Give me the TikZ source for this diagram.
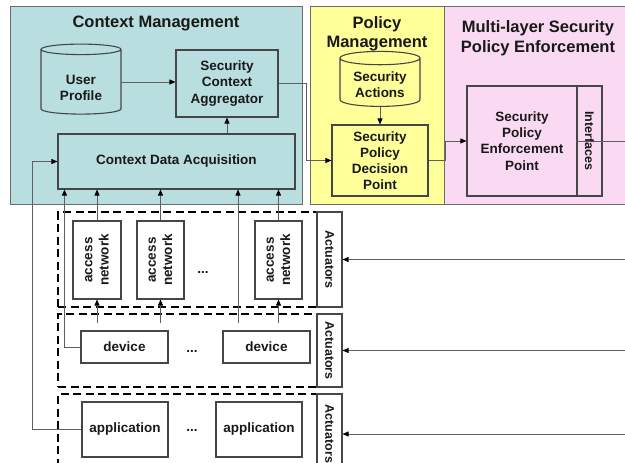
\documentclass[tikz,border=0pt]{standalone}
\usepackage{fontspec}
\setmainfont{Liberation Sans}
\usetikzlibrary{arrows.meta, positioning, shapes.geometric, calc}
\definecolor{cmteal}{RGB}{184,222,224}
\definecolor{pmyellow}{RGB}{255,255,153}
\definecolor{pepink}{RGB}{250,218,242}
\definecolor{edgegray}{RGB}{70,70,70}
\definecolor{wiregray}{RGB}{95,95,95}
\definecolor{inkdark}{RGB}{25,25,25}
\tikzset{
    panel/.style={draw=edgegray!80, line width=0.9pt, inner sep=0pt},
    ptitle/.style={font=\bfseries\fontsize{16.5}{19.5}\selectfont, text=inkdark, align=center, inner sep=0pt},
    box/.style={draw=edgegray, line width=1.1pt, align=center, inner sep=0pt, text=inkdark,
                font=\bfseries\fontsize{13.5}{16.2}\selectfont},
    store/.style={box, cylinder, shape border rotate=90, aspect=0.25},
    layerbox/.style={draw=black, line width=1.7pt, dash pattern=on 8pt off 4.5pt, inner sep=0pt},
    actbox/.style={box, fill=white, rotate=-90, minimum width=#1, minimum height=25,
                   font=\bfseries\fontsize{12.5}{15}\selectfont},
    netbox/.style={box, rotate=90, minimum width=78, minimum height=#1},
    dots/.style={font=\bfseries\fontsize{13.5}{16}\selectfont, text=inkdark, inner sep=0pt},
    wire/.style={draw=wiregray, line width=0.9pt},
    arrow/.style={wire, -{Triangle[length=6pt, width=5pt, color=black]}},
}
% text sitting a little low inside the cylinders
\newcommand{\lowtext}[2]{\raisebox{#1}[\height][\depth]{\begin{tabular}{@{}c@{}}#2\end{tabular}}}

\begin{document}
\begin{tikzpicture}[x=1pt, y=-1pt]
    \useasboundingbox (0,0) rectangle (625,463);
    % three management panels along the top
    \node[panel, fill=cmteal, minimum width=292, minimum height=198] (cmpanel) at (156,105) {};
    \node[panel, fill=pmyellow, minimum width=134, minimum height=198] (pmpanel) at (377,105) {};
    \node[panel, fill=pepink, minimum width=190, minimum height=198] (pepanel) at (539,105) {};
    \node[ptitle] (cmtitle) at (156,23) {Context Management};
    \node[ptitle] (pmtitle) at (377,34) {Policy\\Management};
    \node[ptitle] (petitle) at (538,38) {Multi-layer Security\\Policy Enforcement};

    % context management
    \node[store, fill=cmteal, minimum width=80, minimum height=70] (profile) at (81,82) {\lowtext{-7pt}{User\\Profile}};
    \node[box, fill=cmteal, minimum width=102, minimum height=67] (sca) at (227,83.5) {Security\\Context\\Aggregator};
    \node[box, fill=cmteal, minimum width=237, minimum height=55] (cda) at (176.5,161.5) {Context Data Acquisition};

    % policy management
    \node[store, fill=pmyellow, minimum width=80, minimum height=55] (actions) at (380,82.5) {\lowtext{-4pt}{Security\\Actions}};
    \node[box, fill=pmyellow, minimum width=96, minimum height=71] (spdp) at (380,160.5) {Security\\Policy\\Decision\\Point};

    % enforcement point with its interfaces strip
    \node[box, fill=pepink, minimum width=110, minimum height=110] (spep) at (522,141) {Security\\Policy\\Enforcement\\Point};
    \node[box, fill=pepink, rotate=-90, minimum width=110, minimum height=25,
          font=\bfseries\fontsize{12.5}{15}\selectfont] (intf) at (589.5,141) {Interfaces};

    % dashed layers: network, device, application
    \node[layerbox, minimum width=259, minimum height=95] (netlayer) at (187.5,259.5) {};
    \node[layerbox, minimum width=259, minimum height=73] (devlayer) at (187.5,350.5) {};
    \node[layerbox, minimum width=259, minimum height=80] (applayer) at (187.5,434) {};
    \node[actbox=95] (act1) at (329.5,259.5) {Actuators};
    \node[actbox=73] (act2) at (329.5,350.5) {Actuators};
    \node[actbox=80] (act3) at (329.5,434) {Actuators};

    \node[netbox=48] (net1) at (97,260) {access\\network};
    \node[netbox=47] (net2) at (160.5,260) {access\\network};
    \node[netbox=47] (net3) at (278.5,260) {access\\network};
    \node[dots] (netdots) at (203,272) {...};

    \node[box, minimum width=87, minimum height=32] (dev1) at (124.5,347) {device};
    \node[box, minimum width=87, minimum height=32] (dev2) at (266.5,347) {device};
    \node[dots] (devdots) at (192,351) {...};

    \node[box, minimum width=86, minimum height=55] (app1) at (125,429.5) {application};
    \node[box, minimum width=86, minimum height=55] (app2) at (259,429.5) {application};
    \node[dots] (appdots) at (192,430) {...};

    % free ends of the wires
    \coordinate (tap) at (238,323);
    \coordinate (rim) at (626,0);

    % upper flow
    \draw[arrow] (profile.east) -- (profile.east -| sca.west);
    \draw[arrow] (sca.south |- cda.north) -- (sca.south);
    \draw[arrow] (sca.east) -- ++(28,0) |- (spdp.west);
    \draw[arrow] (actions.south) -- (spdp.north);
    \draw[arrow] (spdp.east) -- ++(17,0) |- (spep.west);
    \draw[wire] (intf.south) -- (intf.south -| rim);

    % actuators fed from the enforcement side
    \draw[arrow] (act1.north -| rim) -- (act1.north);
    \draw[arrow] (act2.north -| rim) -- (act2.north);
    \draw[arrow] (act3.north -| rim) -- (act3.north);

    % context inputs into acquisition
    \draw[arrow] (net1.east) -- (net1.east |- cda.south);
    \draw[arrow] (net2.east) -- (net2.east |- cda.south);
    \draw[arrow] (net3.east) -- (net3.east |- cda.south);
    \draw[arrow] (tap) -- (tap |- cda.south);
    \draw[arrow] (dev1.west) -| ([xshift=7pt]cda.south west);
    \draw[arrow] (app1.west) -- ++(-49,0) |- (cda.west);

    % device layer up into the access networks
    \draw[arrow] (net1.west |- tap) -- (net1.west);
    \draw[arrow] (net2.west |- tap) -- (net2.west);
    \draw[arrow] (net3.west |- tap) -- (net3.west);
\end{tikzpicture}
\end{document}
